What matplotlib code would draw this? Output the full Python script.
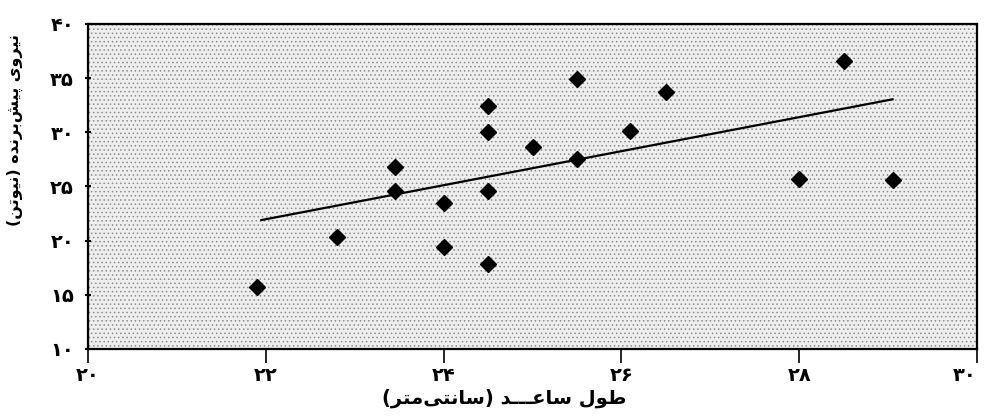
import matplotlib
matplotlib.use("Agg")
import matplotlib.pyplot as plt
from matplotlib.patches import Rectangle

# forearm length (cm) vs. propulsive force (N)
forearm_cm = [21.9, 22.8, 23.45, 23.45, 24.0, 24.0, 24.5, 24.5, 24.5,
              24.5, 25.0, 25.5, 25.5, 26.1, 26.5, 28.0, 28.5, 29.05]
force_n = [15.7, 20.3, 26.8, 24.6, 23.5, 19.4, 17.8, 24.6, 30.0,
           32.4, 28.6, 34.9, 27.5, 30.1, 33.7, 25.7, 36.6, 25.6]

# regression line end points as drawn in the figure
fit_x = [21.95, 29.05]
fit_y = [21.9, 33.05]

x_ticks = [20, 22, 24, 26, 28, 30]
y_ticks = [10, 15, 20, 25, 30, 35, 40]

x_label = "طول ساعـــد (سانتی\u200cمتر)"
y_label = "نیروی پیش\u200cبرنده (نیوتن)"

# --- tiny arabic shaper (matplotlib 3.10 does no shaping / bidi) ---
# iso, final, initial, medial
FORMS = {
    "ا": ("\uFE8D", "\uFE8E", None, None),
    "ب": ("\uFE8F", "\uFE90", "\uFE91", "\uFE92"),
    "پ": ("\uFB56", "\uFB57", "\uFB58", "\uFB59"),
    "ت": ("\uFE95", "\uFE96", "\uFE97", "\uFE98"),
    "د": ("\uFEA9", "\uFEAA", None, None),
    "ر": ("\uFEAD", "\uFEAE", None, None),
    "س": ("\uFEB1", "\uFEB2", "\uFEB3", "\uFEB4"),
    "ش": ("\uFEB5", "\uFEB6", "\uFEB7", "\uFEB8"),
    "ط": ("\uFEC1", "\uFEC2", "\uFEC3", "\uFEC4"),
    "ع": ("\uFEC9", "\uFECA", "\uFECB", "\uFECC"),
    "ل": ("\uFEDD", "\uFEDE", "\uFEDF", "\uFEE0"),
    "م": ("\uFEE1", "\uFEE2", "\uFEE3", "\uFEE4"),
    "ن": ("\uFEE5", "\uFEE6", "\uFEE7", "\uFEE8"),
    "ه": ("\uFEE9", "\uFEEA", "\uFEEB", "\uFEEC"),
    "و": ("\uFEED", "\uFEEE", None, None),
    "ی": ("\uFBFC", "\uFBFD", "\uFBFE", "\uFBFF"),
    "ـ": ("\u0640", "\u0640", "\u0640", "\u0640"),
}


def joins_left(c):
    return c in FORMS and FORMS[c][2] is not None


def shape(text):
    out = []
    for i, c in enumerate(text):
        if c not in FORMS:
            if c != "\u200c":
                out.append(c)
            continue
        prev = text[i - 1] if i > 0 else None
        nxt = text[i + 1] if i + 1 < len(text) else None
        jp = prev is not None and joins_left(prev)
        jn = nxt is not None and nxt in FORMS and joins_left(c)
        iso, fin, ini, med = FORMS[c]
        if jp and jn:
            out.append(med)
        elif jp:
            out.append(fin)
        elif jn:
            out.append(ini)
        else:
            out.append(iso)
    vis = "".join(reversed(out))
    return vis.translate(str.maketrans("()", ")("))


def fa_num(v):
    return str(v).translate(str.maketrans("0123456789", "۰۱۲۳۴۵۶۷۸۹"))


plt.rcParams["font.family"] = ["DejaVu Sans"]

fig = plt.figure(figsize=(9.85, 4.19), dpi=100)
ax = fig.add_axes([88 / 985, 1 - 349 / 419, (977 - 88) / 985, (349 - 24) / 419])

# stippled background
ax.set_facecolor("#eeeeee")
plt.rcParams["hatch.linewidth"] = 0.6
ax.add_patch(Rectangle((0, 0), 1, 1, transform=ax.transAxes, facecolor="none",
                       edgecolor="#8c8c8c", hatch="....", linewidth=0, zorder=0))

ax.plot(fit_x, fit_y, color="black", linewidth=1.6, zorder=2)
ax.plot(forearm_cm, force_n, linestyle="none", marker="D", markersize=8,
        color="black", zorder=3)

ax.set_xlim(20, 30)
ax.set_ylim(10, 40)
ax.set_xticks(x_ticks)
ax.set_xticklabels([fa_num(t) for t in x_ticks], fontsize=14, fontweight="bold")
ax.get_xticklabels()[-1].set_horizontalalignment("right")
ax.set_yticks(y_ticks)
ax.set_yticklabels([fa_num(t) for t in y_ticks], fontsize=14, fontweight="bold")
ax.tick_params(axis="x", direction="out", length=10, width=1.2, pad=2)
ax.tick_params(axis="y", direction="inout", length=4, width=1.5, pad=8)

for s in ax.spines.values():
    s.set_linewidth(1.6)

fig.text(504 / 985, 1 - 398 / 419, shape(x_label), ha="center", va="center",
         fontsize=14, fontweight="bold")
fig.text(15 / 985, 1 - 130 / 419, shape(y_label), ha="center", va="center",
         rotation=90, fontsize=11.5, fontweight="bold")

fig.savefig("out.png", dpi=100)
